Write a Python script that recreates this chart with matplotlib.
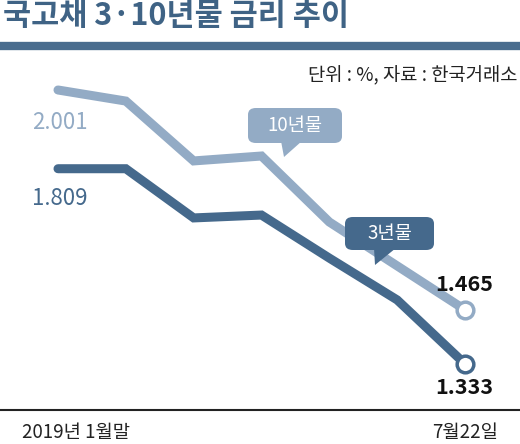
import matplotlib
matplotlib.use("Agg")
import matplotlib.pyplot as plt
from matplotlib.patches import FancyBboxPatch, Polygon

plt.rcParams['font.family'] = ['Noto Sans CJK KR', 'DejaVu Sans']

# 2019년 1월말 ~ 7월22일 (월말 기준)
periods = ['1월', '2월', '3월', '4월', '5월', '6월', '7월22일']
yield_10y = [2.001, 1.974, 1.828, 1.840, 1.679, 1.572, 1.465]
yield_3y = [1.809, 1.809, 1.689, 1.696, 1.591, 1.489, 1.333]

c_light = '#93abc5'
c_dark = '#45698c'
c_title = '#3f6385'

W, H = 520, 444
fig = plt.figure(figsize=(W / 100, H / 100), dpi=100)
fig.patch.set_facecolor('white')


def fx(px):
    return px / W


def fy(py):
    return 1 - py / H


ax = fig.add_axes([0, 0, 1, 1])
ax.set_xlim(-0.855, 6.811)
ax.set_ylim(1.1376, 2.2205)
ax.axis('off')

x = list(range(len(periods)))
ax.plot(x, yield_10y, color=c_light, lw=6.5, solid_capstyle='round',
        solid_joinstyle='miter', zorder=2)
ax.plot(x, yield_3y, color=c_dark, lw=6.5, solid_capstyle='round',
        solid_joinstyle='miter', zorder=3)
ax.plot(x[-1], yield_10y[-1], 'o', ms=12, mfc='white', mec=c_light, mew=2.5, zorder=4)
ax.plot(x[-1], yield_3y[-1], 'o', ms=12, mfc='white', mec=c_dark, mew=2.5, zorder=4)

# value labels
fig.text(fx(32), fy(122), f'{yield_10y[0]:.3f}', color=c_light, fontsize=16,
         ha='left', va='center')
fig.text(fx(32), fy(198), f'{yield_3y[0]:.3f}', color=c_dark, fontsize=16,
         ha='left', va='center')
fig.text(fx(493), fy(284), f'{yield_10y[-1]:.3f}', color='#111111', fontsize=15.5,
         fontweight='bold', ha='right', va='center')
fig.text(fx(493), fy(388), f'{yield_3y[-1]:.3f}', color='#111111', fontsize=15.5,
         fontweight='bold', ha='right', va='center')


def bubble(x0, y0, x1, y1, tail, color, label):
    box = FancyBboxPatch((fx(x0), fy(y1)), fx(x1 - x0), (y1 - y0) / H,
                         boxstyle='round,pad=0,rounding_size=0.015',
                         transform=fig.transFigure, facecolor=color,
                         edgecolor='none', zorder=5)
    fig.patches.append(box)
    tri = Polygon([(fx(px), fy(py)) for px, py in tail], closed=True,
                  transform=fig.transFigure, facecolor=color, edgecolor='none',
                  zorder=5)
    fig.patches.append(tri)
    fig.text(fx((x0 + x1) / 2), fy((y0 + y1) / 2), label, color='white',
             fontsize=13.5, ha='center', va='center', zorder=6)


bubble(248, 108, 342, 143, [(281, 141), (302, 141), (284, 157)], c_light, '10년물')
bubble(345, 217, 434, 250, [(374, 248), (396, 248), (375, 265)], c_dark, '3년물')

# header
fig.text(fx(3), fy(16), '국고채 3·10년물 금리 추이', color=c_title, fontsize=22,
         fontweight='bold', ha='left', va='center')
fig.add_artist(plt.Line2D([0, 1], [fy(46), fy(46)], color='#4a6d8e', lw=6,
                          transform=fig.transFigure))
fig.text(fx(518), fy(76), '단위 : %, 자료 : 한국거래소', color='#222222',
         fontsize=13.5, ha='right', va='center')

# bottom axis
fig.add_artist(plt.Line2D([0, 1], [fy(410), fy(410)], color='#222222', lw=1.5,
                          transform=fig.transFigure))
fig.text(fx(22), fy(432), '2019년 1월말', color='#222222', fontsize=13.5,
         ha='left', va='center')
fig.text(fx(498), fy(432), '7월22일', color='#222222', fontsize=13.5,
         ha='right', va='center')

fig.savefig('out.png', dpi=100, facecolor='white')
